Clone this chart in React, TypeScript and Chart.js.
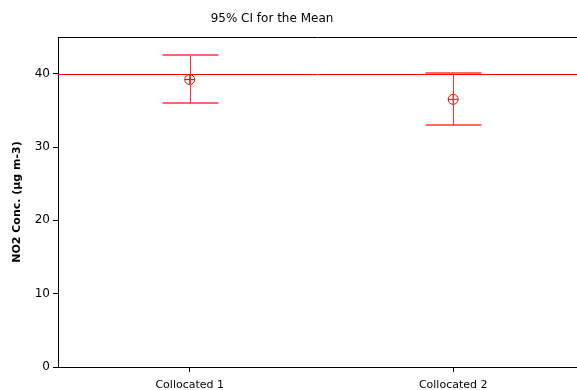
import React, { useEffect, useRef } from "react";
import { Chart, registerables } from "chart.js";

Chart.register(...registerables);

const titleText = "95% CI for the Mean";
const yAxisTitle = "NO2 Conc. (µg m-3)";
const categories = ["Collocated 1", "Collocated 2"];
const means = [39.2, 36.5];
const lowerCI = [36.0, 33.05];
const upperCI = [42.5, 40.1];
const referenceValue = 40;
const yTickValues = [0, 10, 20, 30, 40];

const RED = "#ff0000";
const BAR_RED = "#ff3030";
const CAP_RED = "rgba(255,40,40,0.7)";
const FONT = "'DejaVu Sans', Verdana, sans-serif";

export default function App() {
  const ref = useRef<HTMLCanvasElement | null>(null);

  useEffect(() => {
    document.body.style.margin = "0";
    const canvas = ref.current;
    if (!canvas) return;

    const overlay = {
      id: "overlay",
      afterDatasetsDraw(chart: any) {
        const { ctx, chartArea, scales } = chart;
        const xs = scales.x;
        const ys = scales.y;
        ctx.save();
        ctx.lineWidth = 1;
        // top border
        ctx.strokeStyle = "#000";
        ctx.beginPath();
        ctx.moveTo(chartArea.left, Math.round(chartArea.top) + 0.5);
        ctx.lineTo(chartArea.right, Math.round(chartArea.top) + 0.5);
        ctx.stroke();
        // error bars
        categories.forEach((_, i) => {
          const x = Math.round(xs.getPixelForValue(i + 1)) + 0.5;
          const yl = Math.round(ys.getPixelForValue(lowerCI[i])) + 0.5;
          const yh = Math.round(ys.getPixelForValue(upperCI[i])) + 0.5;
          const hw = 28;
          ctx.strokeStyle = BAR_RED;
          ctx.lineWidth = 1;
          ctx.beginPath();
          ctx.moveTo(x, yl);
          ctx.lineTo(x, yh);
          ctx.stroke();
          ctx.strokeStyle = CAP_RED;
          ctx.lineWidth = 2;
          ctx.beginPath();
          ctx.moveTo(x - hw, yl - 0.5);
          ctx.lineTo(x + hw, yl - 0.5);
          ctx.moveTo(x - hw, yh - 0.5);
          ctx.lineTo(x + hw, yh - 0.5);
          ctx.stroke();
        });
        // reference line
        const yr = Math.round(ys.getPixelForValue(referenceValue)) + 0.5;
        ctx.strokeStyle = RED;
        ctx.lineWidth = 1;
        ctx.beginPath();
        ctx.moveTo(chartArea.left, yr);
        ctx.lineTo(chartArea.right, yr);
        ctx.stroke();
        // title
        ctx.fillStyle = "#000";
        ctx.font = `12px ${FONT}`;
        ctx.textAlign = "center";
        ctx.textBaseline = "middle";
        ctx.fillText(titleText, 272, 19);
        ctx.restore();
      },
    };

    const meanPoints = means.map((m, i) => ({ x: i + 1, y: m }));

    const chart = new Chart(canvas, {
      type: "scatter",
      data: {
        datasets: [
          {
            data: meanPoints,
            pointStyle: "circle",
            radius: 5,
            borderColor: RED,
            backgroundColor: "rgba(0,0,0,0)",
            borderWidth: 1,
          },
          {
            data: meanPoints,
            pointStyle: "cross",
            radius: 5,
            borderColor: RED,
            borderWidth: 1,
          },
        ],
      },
      options: {
        responsive: false,
        animation: false,
        events: [],
        layout: { autoPadding: false, padding: { top: 37, left: 0, right: 0, bottom: 0 } },
        plugins: {
          legend: { display: false },
          tooltip: { enabled: false },
          title: { display: false },
        },
        scales: {
          x: {
            type: "linear",
            min: 0.5,
            max: 2.47,
            afterBuildTicks: (scale: any) => {
              scale.ticks = categories.map((_, i) => ({ value: i + 1 }));
            },
            afterFit: (scale: any) => {
              scale.height = 23;
              scale.paddingLeft = 0;
              scale.paddingRight = 0;
            },
            ticks: {
              autoSkip: false,
              maxRotation: 0,
              padding: 7,
              color: "#000",
              font: { family: FONT, size: 11 },
              callback: (v: any) => categories[Math.round(v) - 1] ?? "",
            },
            grid: {
              drawOnChartArea: false,
              drawTicks: true,
              tickLength: 5,
              color: "#000",
            },
            border: { display: true, color: "#000", width: 1 },
          },
          y: {
            type: "linear",
            min: 0,
            max: 45,
            afterBuildTicks: (scale: any) => {
              scale.ticks = yTickValues.map((v) => ({ value: v }));
            },
            afterFit: (scale: any) => {
              scale.width = 58;
              scale.paddingTop = 0;
              scale.paddingBottom = 0;
            },
            ticks: {
              padding: 3,
              color: "#000",
              font: { family: FONT, size: 12 },
            },
            grid: {
              drawOnChartArea: false,
              drawTicks: true,
              tickLength: 5,
              color: "#000",
            },
            border: { display: true, color: "#000", width: 1 },
            title: {
              display: true,
              text: yAxisTitle,
              color: "#000",
              font: { family: FONT, size: 11, weight: "bold" },
              padding: { top: 11, bottom: 4 },
            },
          },
        },
      },
      plugins: [overlay],
    });

    return () => chart.destroy();
  }, []);

  return (
    <div style={{ width: 577, height: 390 }}>
      <canvas ref={ref} width={577} height={390} />
    </div>
  );
}
